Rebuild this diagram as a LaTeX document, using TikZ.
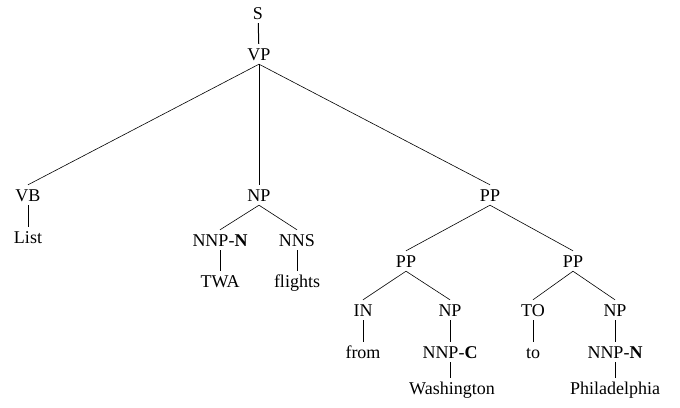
\documentclass[tikz,border=0pt]{standalone}
\usepackage{fontspec}
\setmainfont{Liberation Serif}
\usepackage{tikz}
\tikzset{
	cat/.style={inner xsep=1pt, inner ysep=4pt, text height=12pt, text depth=0pt, font=\fontsize{18}{20}\selectfont},
	branch/.style={line width=0.6pt},
	stem/.style={line width=1pt}
}

\begin{document}
\begin{tikzpicture}[x=1pt, y=-1pt]
		%%%%% START %%%%%
		\useasboundingbox (0, 0) rectangle (680, 407);
		
		\node[cat] (s) at (258, 13) {S};
		\node[cat] (vp) at (259, 54) {VP};
		
		\node[cat] (vb) at (28, 195) {VB};
		\node[cat] (list) at (28, 237) {List};
		
		\node[cat] (np) at (259, 195) {NP};
		\node[cat] (nnpa) at (220, 240) {NNP-\textbf{N}};
		\node[cat] (nns) at (297, 240) {NNS};
		\node[cat] (twa) at (220, 281) {TWA};
		\node[cat] (flights) at (297, 281) {flights};
		
		\node[cat] (pp) at (490, 195) {PP};
		\node[cat] (ppl) at (406, 261) {PP};
		\node[cat] (ppr) at (573, 261) {PP};
		
		\node[cat] (in) at (363, 310) {IN};
		\node[cat] (npl) at (450, 310) {NP};
		\node[cat] (to) at (533, 310) {TO};
		\node[cat] (npr) at (615, 310) {NP};
		
		\node[cat] (from) at (363, 352) {from};
		\node[cat] (nnpc) at (450, 352) {NNP-\textbf{C}};
		\node[cat] (toword) at (533, 352) {to};
		\node[cat] (nnpb) at (615, 352) {NNP-\textbf{N}};
		
		\node[cat] (wash) at (452, 388) {Washington};
		\node[cat] (phil) at (615, 388) {Philadelphia};
		
		\draw[stem] (s) -- (vp);
		\draw[branch] (vp.south) -- (vb.north);
		\draw[stem] (vp.south) -- (np.north);
		\draw[branch] (vp.south) -- (pp.north);
		\draw[stem] (vb) -- (list);
		
		\draw[branch] (np.south) -- (nnpa.north);
		\draw[branch] (np.south) -- (nns.north);
		\draw[stem] (nnpa) -- (twa);
		\draw[stem] (nns) -- (flights);
		
		\draw[branch] (pp.south) -- (ppl.north);
		\draw[branch] (pp.south) -- (ppr.north);
		\draw[branch] (ppl.south) -- (in.north);
		\draw[branch] (ppl.south) -- (npl.north);
		\draw[branch] (ppr.south) -- (to.north);
		\draw[branch] (ppr.south) -- (npr.north);
		
		\draw[stem] (in) -- (from);
		\draw[stem] (npl) -- (nnpc);
		\draw[stem] (to) -- (toword);
		\draw[stem] (npr) -- (nnpb);
		\draw[stem] (nnpc.south) -- (nnpc.south |- wash.north);
		\draw[stem] (nnpb) -- (phil);
		
		%%%%% END %%%%%
	\end{tikzpicture}
\end{document}
